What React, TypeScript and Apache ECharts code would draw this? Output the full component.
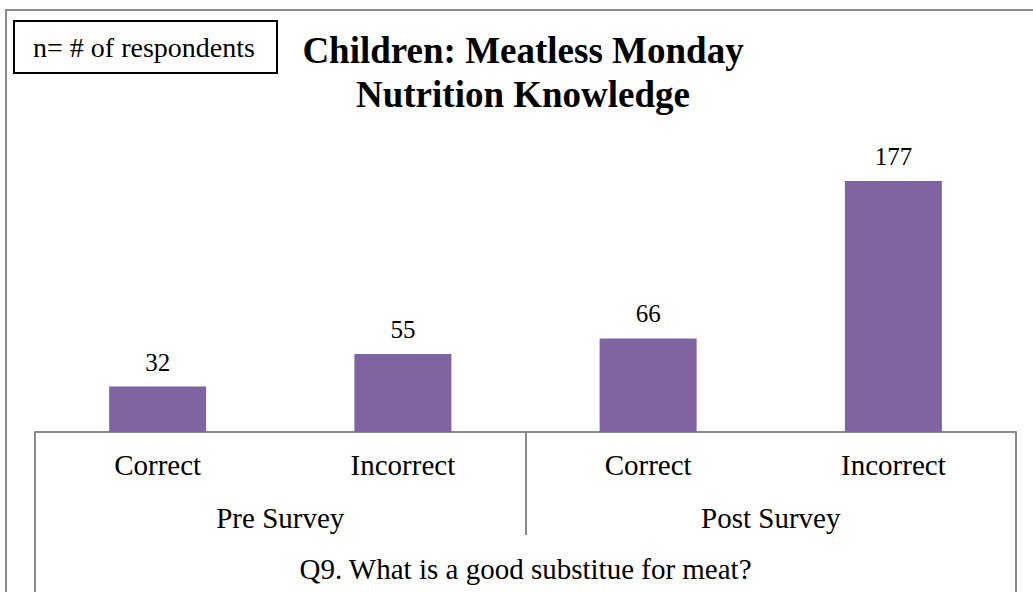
import React, { useEffect, useRef } from "react";
import * as echarts from "echarts";

const categories = ["Correct", "Incorrect", "Correct", "Incorrect"];
const groups = ["Pre Survey", "Post Survey"];
const question = ["Q9. What is a good substitue for meat?"];
const values = [32, 55, 66, 177];
const titleLines = ["Children: Meatless Monday", "Nutrition Knowledge"];
const noteText = "n= # of respondents";

const FONT = "'Liberation Serif', 'Times New Roman', Times, serif";
const GREY = "#8a8a8a";

export default function App() {
  const ref = useRef<HTMLDivElement>(null);
  useEffect(() => {
    if (!ref.current) return;
    const chart = echarts.init(ref.current, undefined, { renderer: "svg" });
    chart.setOption({
      animation: false,
      backgroundColor: "#ffffff",
      textStyle: { fontFamily: FONT },
      grid: { left: 35, right: 17, top: 148.4, bottom: 160, containLabel: false },
      yAxis: {
        type: "value",
        min: 0,
        max: 200,
        show: false,
        splitLine: { show: false },
      },
      xAxis: [
        {
          type: "category",
          data: categories,
          position: "bottom",
          axisLine: { show: true, lineStyle: { color: GREY, width: 2 } },
          axisTick: { show: false },
          axisLabel: {
            interval: 0,
            fontSize: 29,
            color: "#000",
            fontFamily: FONT,
            margin: 33,
            verticalAlign: "middle",
          },
        },
        {
          type: "category",
          data: groups,
          position: "bottom",
          axisLine: { show: false },
          axisTick: { show: true, length: 103, interval: 0, lineStyle: { color: GREY, width: 2 } },
          axisLabel: {
            interval: 0,
            fontSize: 29,
            color: "#000",
            fontFamily: FONT,
            margin: 86,
            verticalAlign: "middle",
          },
        },
        {
          type: "category",
          data: question,
          position: "bottom",
          axisLine: { show: false },
          axisTick: { show: true, length: 200, interval: 0, lineStyle: { color: GREY, width: 2 } },
          axisLabel: {
            interval: 0,
            fontSize: 29,
            color: "#000",
            fontFamily: FONT,
            margin: 137,
            verticalAlign: "middle",
          },
        },
      ],
      series: [
        {
          type: "bar",
          xAxisIndex: 0,
          data: values,
          barWidth: 97,
          itemStyle: { color: "#8064A2" },
          label: {
            show: true,
            position: "top",
            distance: 12,
            fontSize: 25,
            color: "#000",
            fontFamily: FONT,
          },
        },
      ],
      graphic: [
        {
          type: "rect",
          shape: { x: 6, y: 10, width: 1200, height: 800 },
          style: { fill: "none", stroke: GREY, lineWidth: 2 },
          silent: true,
          z: 10,
        },
        {
          type: "rect",
          shape: { x: 14, y: 21, width: 263, height: 52 },
          style: { fill: "#fff", stroke: "#000", lineWidth: 2 },
          z: 10,
        },
        {
          type: "text",
          x: 144,
          y: 47,
          style: {
            text: noteText,
            fontSize: 28,
            fontFamily: FONT,
            fill: "#000",
            align: "center",
            verticalAlign: "middle",
          },
          z: 11,
        },
        {
          type: "text",
          x: 523,
          y: 28,
          style: {
            text: titleLines.join("\n"),
            fontSize: 37,
            fontWeight: "bold",
            lineHeight: 44,
            fontFamily: FONT,
            fill: "#000",
            align: "center",
            verticalAlign: "top",
          },
          z: 11,
        },
      ],
    });
    return () => chart.dispose();
  }, []);
  return (
    <div
      ref={ref}
      style={{ position: "absolute", left: 0, top: 0, width: 1033, height: 592 }}
    />
  );
}
